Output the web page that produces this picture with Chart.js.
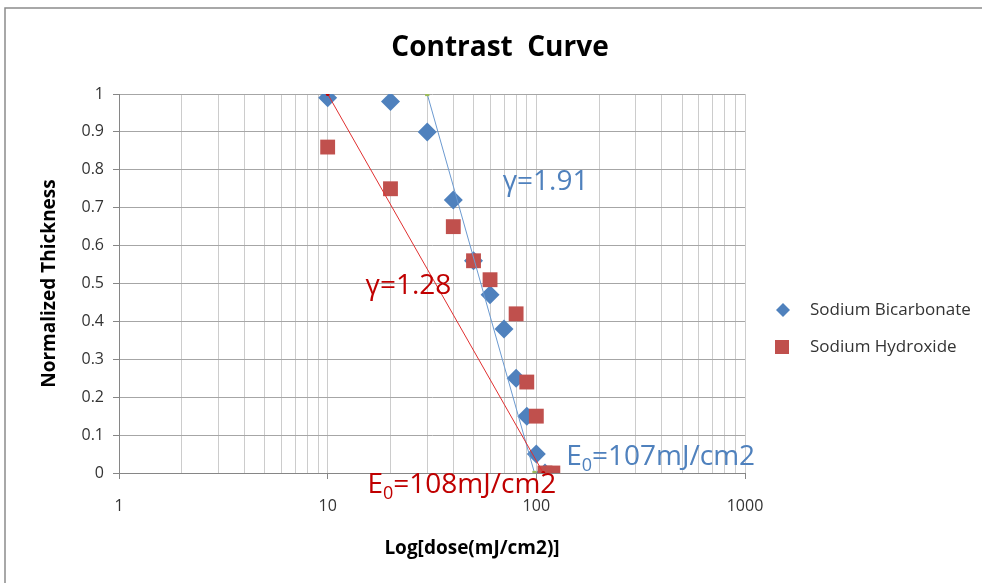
<!DOCTYPE html>
<html>
<head>
<meta charset="utf-8">
<script src="https://cdn.jsdelivr.net/npm/chart.js@4.4.0/dist/chart.umd.min.js"></script>
<style>
html, body { margin: 0; padding: 0; background: #fff; }
</style>
</head>
<body>
<canvas id="chart1" width="982" height="583"></canvas>
<script>
// measured points
var bicarbDose  = [10, 20, 30, 40, 50, 60, 70, 80, 90, 100, 110];
var bicarbThick = [0.99, 0.98, 0.90, 0.72, 0.56, 0.47, 0.38, 0.25, 0.15, 0.05, 0];
var hydroxDose  = [10, 20, 40, 50, 60, 80, 90, 100, 110, 120];
var hydroxThick = [0.86, 0.75, 0.65, 0.56, 0.51, 0.42, 0.24, 0.15, 0, 0];

// fitted contrast lines
var bicarbFitDose  = [30, 98];
var bicarbFitThick = [1, 0];
var hydroxFitDose  = [10, 108];
var hydroxFitThick = [1, 0];

// axis ticks
var xTickValues = [1,2,3,4,5,6,7,8,9,10,20,30,40,50,60,70,80,90,100,200,300,400,500,600,700,800,900,1000];
var xLabels = [1, 10, 100, 1000];

var seriesNames = ['Sodium Bicarbonate', 'Sodium Hydroxide'];

var BLUE = '#4F81BD';
var RED = '#C0504D';
var FONT = 'Open Sans';

// text notes on the plot, in data units
var notes = [
	{ parts: ['γ=1.91'], x: 69, y: 0.768, color: '#4F81BD' },
	{ parts: ['γ=1.28'], x: 15.2, y: 0.493, color: '#C00000' },
	{ parts: ['E', '0', '=107mJ/cm2'], x: 139, y: 0.042, color: '#4F81BD' },
	{ parts: ['E', '0', '=108mJ/cm2'], x: 15.5, y: -0.032, color: '#C00000' }
];

function pts(xs, ys) {
	return xs.map(function(v, i) { return { x: v, y: ys[i] }; });
}

var extras = {
	id: 'extras',
	afterDraw: function(chart) {
		var c = chart.ctx;
		var xs = chart.scales.x, ys = chart.scales.y;
		c.save();
		// outer frame (top + left visible)
		c.strokeStyle = '#8c8c8c';
		c.lineWidth = 1.5;
		c.beginPath();
		c.moveTo(5, 583);
		c.lineTo(5, 8);
		c.lineTo(982, 8);
		c.stroke();

		// title
		c.fillStyle = '#000';
		c.textAlign = 'center';
		c.textBaseline = 'middle';
		c.font = 'bold 28px "' + FONT + '"';
		c.fillText('Contrast  Curve', 500, 48);

		// x axis title
		c.font = 'bold 19px "' + FONT + '"';
		c.fillText('Log[dose(mJ/cm2)]', 472, 549);

		// legend
		c.textAlign = 'left';
		c.font = '17px "' + FONT + '"';
		c.fillStyle = '#333';
		c.fillText(seriesNames[0], 810, 310);
		c.fillText(seriesNames[1], 810, 347);
		c.fillStyle = BLUE;
		c.beginPath();
		c.moveTo(783, 303); c.lineTo(790, 310); c.lineTo(783, 317); c.lineTo(776, 310);
		c.closePath();
		c.fill();
		c.fillStyle = RED;
		c.fillRect(775, 340, 14, 14);

		// notes
		notes.forEach(function(n) {
			var px = xs.getPixelForValue(n.x);
			var py = ys.getPixelForValue(n.y);
			c.fillStyle = n.color;
			c.textBaseline = 'middle';
			c.font = '28px "' + FONT + '"';
			c.fillText(n.parts[0], px, py);
			px += c.measureText(n.parts[0]).width;
			if (n.parts.length > 1) {
				c.font = '18px "' + FONT + '"';
				c.fillText(n.parts[1], px, py + 9);
				px += c.measureText(n.parts[1]).width;
				c.font = '28px "' + FONT + '"';
				c.fillText(n.parts[2], px, py);
			}
		});
		c.restore();
	}
};

var ctx = document.getElementById('chart1').getContext('2d');

var chart1 = new Chart(ctx, {
	type: 'scatter',
	data: {
		datasets: [{
			label: 'fit hydroxide',
			data: pts(hydroxFitDose, hydroxFitThick),
			showLine: true,
			borderColor: '#E03030',
			borderWidth: 1,
			pointStyle: 'circle',
			pointRadius: 2,
			backgroundColor: '#C00000',
			pointBorderWidth: 0,
			order: 0
		}, {
			label: 'fit bicarbonate',
			data: pts(bicarbFitDose, bicarbFitThick),
			showLine: true,
			borderColor: '#6C9AD0',
			borderWidth: 1,
			pointStyle: 'rect',
			pointRadius: 3,
			backgroundColor: '#9BBB59',
			pointBorderWidth: 0,
			order: 1
		}, {
			label: seriesNames[1],
			data: pts(hydroxDose, hydroxThick),
			pointStyle: 'rect',
			pointRadius: 10.5,
			backgroundColor: RED,
			borderColor: RED,
			pointBorderWidth: 0,
			order: 2
		}, {
			label: seriesNames[0],
			data: pts(bicarbDose, bicarbThick),
			pointStyle: 'rectRot',
			pointRadius: 9.5,
			backgroundColor: BLUE,
			borderColor: BLUE,
			pointBorderWidth: 0,
			order: 3
		}]
	},
	options: {
		responsive: false,
		animation: false,
		layout: { padding: { left: 0, top: 94, right: 237, bottom: 0 } },
		plugins: {
			legend: { display: false },
			tooltip: { enabled: false },
			title: { display: false }
		},
		scales: {
			x: {
				type: 'logarithmic',
				min: 1,
				max: 1000,
				afterBuildTicks: function(s) {
					s.ticks = xTickValues.map(function(v) { return { value: v }; });
				},
				afterFit: function(s) { s.height = 110; },
				ticks: {
					autoSkip: false,
					maxRotation: 0,
					padding: 18,
					color: '#333',
					font: { family: FONT, size: 16 },
					callback: function(v) { return xLabels.indexOf(v) >= 0 ? String(v) : ''; }
				},
				grid: {
					color: '#cccccc',
					tickLength: 6,
					tickColor: function(c) {
						return c.tick && xLabels.indexOf(c.tick.value) >= 0 ? '#868686' : 'rgba(0,0,0,0)';
					}
				},
				border: { color: '#868686' }
			},
			y: {
				min: 0,
				max: 1,
				afterFit: function(s) { s.width = 119; },
				ticks: {
					stepSize: 0.1,
					padding: 9,
					color: '#333',
					font: { family: FONT, size: 16 },
					callback: function(v) { return String(Math.round(v * 10) / 10); }
				},
				grid: { color: '#a6a6a6', tickLength: 6, tickColor: '#868686' },
				border: { color: '#868686' },
				title: {
					display: true,
					text: 'Normalized Thickness',
					color: '#000',
					font: { family: FONT, size: 19, weight: 'bold' },
					padding: { top: 38, bottom: 0 }
				}
			}
		}
	},
	plugins: [extras]
});
</script>
</body>
</html>
